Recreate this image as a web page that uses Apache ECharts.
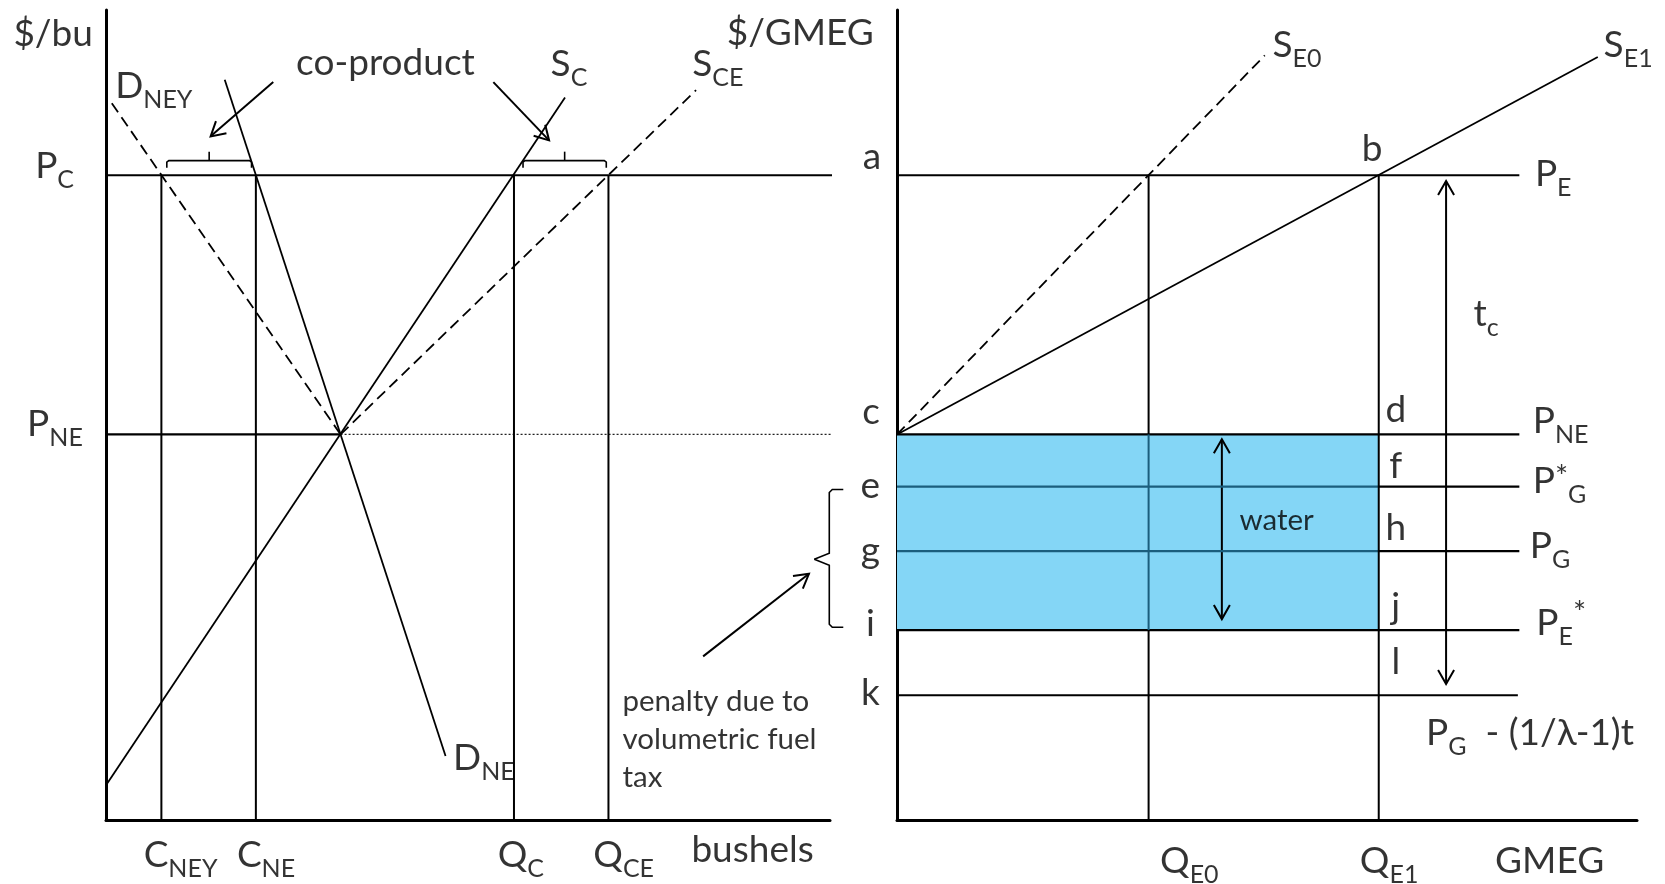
<!DOCTYPE html>
<html><head><meta charset="utf-8">
<script src="https://cdn.jsdelivr.net/npm/echarts@6/dist/echarts.min.js"></script>
<style>html,body{margin:0;padding:0;background:#fff}#c{width:1665px;height:884px}</style>
</head><body><div id="c"></div>
<script>
// ================= LEFT PANEL: corn market ($/bu vs bushels) =================
const PC = 79.6;            // P_C
const PNE = 47.6;           // P_NE
const eqQty = 32.4;         // no-ethanol equilibrium quantity
const gapEdge = 109.25;     // position of the right panel's price axis (left-panel units)
const cornQty = [7.65, 20.7, 56.35, 69.4];          // C_NEY, C_NE, Q_C, Q_CE
const demandNEY = [[0.8, 88.5], [32.4, 47.6]];
const demandNE = [[16.4, 91.4], [46.9, 7.9]];
const supplyC = [[0, 4.3], [63.4, 89.2]];
const supplyCE = [[32.4, 47.6], [81.5, 90.1]];
const coproductBraces = [[8.4, 20.1, 81.4], [57.6, 69.1, 81.4]];
const coproductArrows = [[23.1, 91.1, 14.45, 84.4, 0], [53.5, 91.1, 61.2, 83.9, 0]];
const leftLabels = [
  [-7.3, 97.0, '{m|$/bu}'],
  [-7.1, 80.7, '{m|P}{s|C}'],
  [-7.05, 48.9, '{m|P}{s|NE}'],
  [6.6, 90.6, '{m|D}{s|NEY}'],
  [38.6, 93.5, '{m|co-product}'],
  [63.95, 93.3, '{m|S}{s|C}'],
  [84.5, 93.3, '{m|S}{s|CE}'],
  [95.9, 97.2, '{m|$/GMEG}'],
  [52.2, 7.7, '{m|D}{s|NE}'],
  [10.3, -4.3, '{m|C}{s|NEY}'],
  [22.1, -4.3, '{m|C}{s|NE}'],
  [57.3, -4.3, '{m|Q}{s|C}'],
  [71.5, -4.3, '{m|Q}{s|CE}'],
  [89.3, -3.7, '{m|bushels}']
];

// ================= RIGHT PANEL: ethanol ($/GMEG vs GMEG) =================
const PE = 79.6, PNE_R = 47.6, PGstar = 41.15, PG = 33.2, PEstar = 23.45, PGtax = 15.4;
const priceLineEnd = 84.1, taxLineEnd = 83.9;
const ethQty = [34.0, 65.1];                        // Q_E0, Q_E1
const supplyE0 = [[0, 47.6], [49.7, 94.4]];
const supplyE1 = [[0, 47.6], [94.7, 94.2]];
const waterBox = [[0, PNE_R, 65.1, PEstar]];
const rightArrows = [[74.2, 78.9, 74.2, 16.8, 1], [43.9, 47.0, 43.9, 24.8, 1], [-26.2, 20.2, -11.9, 30.4, 0]];
const penaltyBrace = [[-9.15, 40.8, 23.8, 32.2]];
const rightCenterLabels = [
  [-3.4, 81.9, '{m|a}'], [64.2, 82.8, '{m|b}'], [-3.5, 50.4, '{m|c}'], [67.4, 50.6, '{m|d}'],
  [-3.6, 41.2, '{m|e}'], [67.4, 43.7, '{m|f}'], [-3.6, 33.2, '{m|g}'], [67.4, 36.0, '{m|h}'],
  [-3.6, 24.2, '{m|i}'], [67.4, 26.3, '{m|j}'], [-3.6, 15.7, '{m|k}'], [67.4, 19.5, '{m|l}'],
  [54.05, 95.7, '{m|S}{s|E0}'], [98.8, 95.7, '{m|S}{s|E1}'], [79.6, 62.5, '{m|t}{s|c}'],
  [51.3, 37.0, '{w|water}'],
  [39.5, -5.06, '{m|Q}{s|E0}'], [66.5, -5.06, '{m|Q}{s|E1}'], [88.2, -5.06, '{m|GMEG}']
];
const rightLeftLabels = [
  [86.2, 79.7, '{m|P}{s|E}'],
  [85.9, 49.3, '{m|P}{s|NE}'],
  [85.9, 41.8, '{m|P}{u|*}{s|G}'],
  [85.5, 33.8, '{m|P}{s|G}'],
  [86.4, 24.3, '{m|P}{s|E}{v|*}'],
  [71.5, 10.7, '{m|P}{s|G}{m|  - (1/λ-1)t}'],
  [-37.1, 9.9, '{w|penalty due to}\n{w|volumetric fuel}\n{w|tax}']
];

// ================= styling / helpers =================
const FONT = "Lato, 'DejaVu Sans', sans-serif";
const TEAL = '#1b5e7d';
const rich = {
  m: {fontFamily: FONT, fontSize: 37, color: '#000', verticalAlign: 'middle'},
  s: {fontFamily: FONT, fontSize: 25, color: '#000', padding: [28, 0, 0, 0], verticalAlign: 'middle'},
  u: {fontFamily: FONT, fontSize: 31, color: '#000', padding: [0, 0, 8, 0], verticalAlign: 'middle'},
  v: {fontFamily: FONT, fontSize: 31, color: '#000', padding: [0, 0, 21, 0], verticalAlign: 'middle'},
  w: {fontFamily: FONT, fontSize: 29.5, color: '#000', lineHeight: 38, verticalAlign: 'middle'}
};

function seg(gi, pts, style) {
  return {type: 'line', xAxisIndex: gi, yAxisIndex: gi, data: pts, symbol: 'none', clip: false, silent: true,
    lineStyle: Object.assign({color: '#000', width: 2.2}, style || {})};
}
function head(tip, from) {
  const dx = tip[0] - from[0], dy = tip[1] - from[1];
  const L = Math.hypot(dx, dy) || 1, ux = dx / L, uy = dy / L, len = 14, hw = 8;
  return [[tip[0] - ux * len - uy * hw, tip[1] - uy * len + ux * hw], tip,
          [tip[0] - ux * len + uy * hw, tip[1] - uy * len - ux * hw]];
}
function arrowSeries(gi, data) {
  return {type: 'custom', coordinateSystem: 'cartesian2d', xAxisIndex: gi, yAxisIndex: gi, silent: true, clip: false, data: data,
    renderItem: function (params, api) {
      const a = api.coord([api.value(0), api.value(1)]);
      const b = api.coord([api.value(2), api.value(3)]);
      const st = {stroke: '#000', fill: 'none', lineWidth: 2};
      const kids = [{type: 'line', shape: {x1: a[0], y1: a[1], x2: b[0], y2: b[1]}, style: st},
                    {type: 'polyline', shape: {points: head(b, a)}, style: st}];
      if (api.value(4)) kids.push({type: 'polyline', shape: {points: head(a, b)}, style: st});
      return {type: 'group', children: kids};
    }};
}
function labelSeries(gi, data, align) {
  return {type: 'scatter', xAxisIndex: gi, yAxisIndex: gi, symbolSize: 1, silent: true, clip: false,
    itemStyle: {color: 'rgba(0,0,0,0)'},
    data: data.map(d => ({value: [d[0], d[1]], txt: d[2]})),
    label: {show: true, position: 'inside', align: align, verticalAlign: 'middle', color: '#000',
      fontFamily: FONT, formatter: p => p.data.txt, rich: rich}};
}

const series = [];
// ---- left panel lines ----
series.push(seg(0, [[0, PC], [gapEdge, PC]]));
series.push(seg(0, [[0, PNE], [eqQty, PNE]]));
series.push(seg(0, [[eqQty, PNE], [gapEdge, PNE]], {width: 1.3, type: [2, 2], color: '#222'}));
cornQty.forEach(q => series.push(seg(0, [[q, PC], [q, 0]], {width: 2})));
series.push(seg(0, demandNEY, {width: 1.8, type: [11, 6]}));
series.push(seg(0, demandNE, {width: 1.8}));
series.push(seg(0, supplyC, {width: 1.8}));
series.push(seg(0, supplyCE, {width: 1.8, type: [11, 6]}));
series.push({type: 'custom', coordinateSystem: 'cartesian2d', xAxisIndex: 0, yAxisIndex: 0, silent: true, clip: false, data: coproductBraces,
  renderItem: function (params, api) {
    const p1 = api.coord([api.value(0), api.value(2)]);
    const p2 = api.coord([api.value(1), api.value(2)]);
    const y = p1[1], xm = (p1[0] + p2[0]) / 2, st = {stroke: '#000', fill: 'none', lineWidth: 1.6};
    return {type: 'group', children: [
      {type: 'polyline', shape: {points: [[p1[0], y + 7], [p1[0], y + 1.5], [p1[0] + 2, y], [p2[0] - 2, y], [p2[0], y + 1.5], [p2[0], y + 7]]}, style: st},
      {type: 'line', shape: {x1: xm, y1: y, x2: xm, y2: y - 9}, style: st}]};
  }});
series.push(arrowSeries(0, coproductArrows));

// ---- right panel ----
series.push({type: 'custom', coordinateSystem: 'cartesian2d', xAxisIndex: 1, yAxisIndex: 1, silent: true, data: waterBox,
  renderItem: function (params, api) {
    const p0 = api.coord([api.value(0), api.value(1)]);
    const p1 = api.coord([api.value(2), api.value(3)]);
    return {type: 'rect', shape: {x: p0[0], y: p0[1], width: p1[0] - p0[0], height: p1[1] - p0[1]}, style: {fill: '#84d6f6'}};
  }});
series.push(seg(1, [[0, PE], [priceLineEnd, PE]]));
series.push(seg(1, [[0, PNE_R], [priceLineEnd, PNE_R]]));
[PGstar, PG].forEach(p => {
  series.push(seg(1, [[0, p], [ethQty[1], p]], {color: TEAL}));
  series.push(seg(1, [[ethQty[1], p], [priceLineEnd, p]]));
});
series.push(seg(1, [[0, PEstar], [priceLineEnd, PEstar]]));
series.push(seg(1, [[0, PGtax], [taxLineEnd, PGtax]]));
series.push(seg(1, [[ethQty[0], PE], [ethQty[0], PNE_R]], {width: 2}));
series.push(seg(1, [[ethQty[0], PNE_R], [ethQty[0], PEstar]], {width: 2, color: TEAL}));
series.push(seg(1, [[ethQty[0], PEstar], [ethQty[0], 0]], {width: 2}));
series.push(seg(1, [[ethQty[1], PE], [ethQty[1], 0]], {width: 2}));
series.push(seg(1, supplyE0, {width: 1.8, type: [11, 6]}));
series.push(seg(1, supplyE1, {width: 1.8}));
series.push(arrowSeries(1, rightArrows));
series.push({type: 'custom', coordinateSystem: 'cartesian2d', xAxisIndex: 1, yAxisIndex: 1, silent: true, clip: false, data: penaltyBrace,
  renderItem: function (params, api) {
    const t = api.coord([api.value(0), api.value(1)]);
    const b = api.coord([api.value(0), api.value(2)]);
    const m = api.coord([api.value(0), api.value(3)]);
    const X = t[0], st = {stroke: '#000', fill: 'none', lineWidth: 1.6};
    return {type: 'group', children: [
      {type: 'polyline', shape: {points: [[X + 14, t[1]], [X + 3, t[1]], [X, t[1] + 3], [X, m[1] - 6], [X - 15, m[1]]]}, style: st},
      {type: 'polyline', shape: {points: [[X - 15, m[1]], [X, m[1] + 6], [X, b[1] - 3], [X + 3, b[1]], [X + 14, b[1]]]}, style: st}]};
  }});

// ---- text ----
series.push(labelSeries(0, leftLabels, 'center'));
series.push(labelSeries(1, rightCenterLabels, 'center'));
series.push(labelSeries(1, rightLeftLabels, 'left'));

function axis(gi, pos) {
  return {gridIndex: gi, type: 'value', min: 0, max: 100, position: pos,
    axisLine: {show: true, onZero: false, lineStyle: {color: '#000', width: 3}},
    axisTick: {show: false}, axisLabel: {show: false}, splitLine: {show: false}};
}

const chart = echarts.init(document.getElementById('c'), null, {renderer: 'canvas'});
chart.setOption({
  animation: false,
  backgroundColor: '#fff',
  grid: [
    {left: 106, top: 10, width: 724, height: 810, outerBoundsMode: 'none'},
    {left: 897, top: 10, width: 740, height: 810, outerBoundsMode: 'none'}
  ],
  xAxis: [axis(0, 'bottom'), axis(1, 'bottom')],
  yAxis: [axis(0, 'left'), axis(1, 'left')],
  series: series
});
</script></body></html>
